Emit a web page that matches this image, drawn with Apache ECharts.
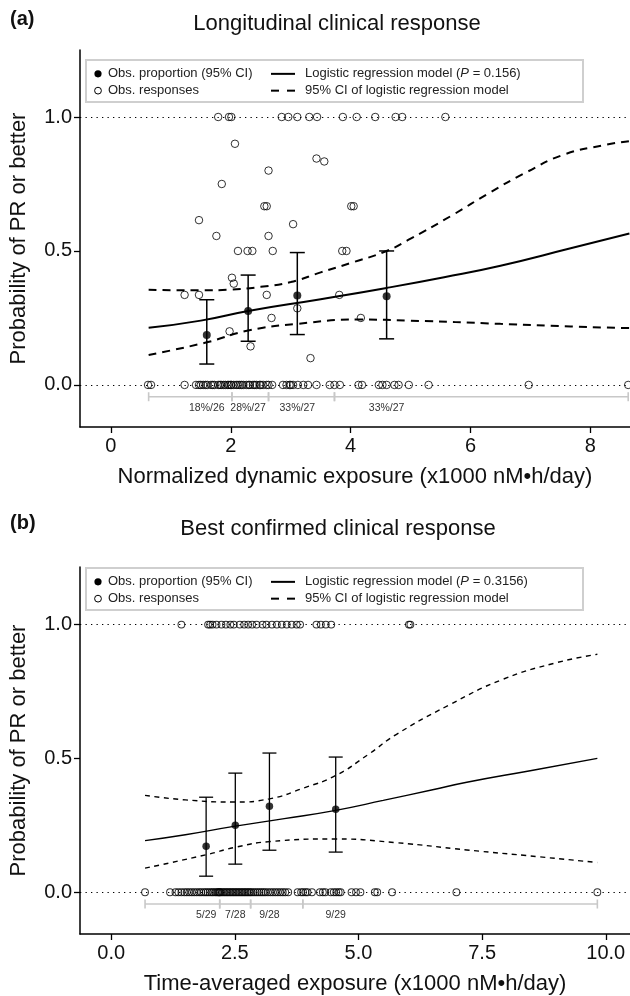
<!DOCTYPE html>
<html><head><meta charset="utf-8">
<script src="https://cdn.jsdelivr.net/npm/echarts@6/dist/echarts.min.js"></script>
<style>html,body{margin:0;padding:0;background:#fff}#c{width:630px;height:996px}</style>
</head><body><div id="c"></div>
<script>
// ---------- Panel (a): Longitudinal clinical response ----------
const aXTicks = [0, 2, 4, 6, 8];
const aZeroX = [0.62,0.67,1.23,1.42,1.47,1.50,1.54,1.58,1.61,1.67,1.70,1.73,1.79,1.82,1.84,1.88,1.91,1.95,1.97,2.00,2.01,2.05,2.09,2.12,2.15,2.18,2.21,2.26,2.30,2.32,2.37,2.40,2.43,2.48,2.50,2.54,2.60,2.63,2.69,2.87,2.93,2.98,3.00,3.04,3.12,3.21,3.29,3.43,3.65,3.73,3.82,4.13,4.19,4.47,4.53,4.60,4.73,4.80,4.97,5.30,6.97,8.63];
const aOneX = [1.79,1.97,2.01,2.85,2.96,3.11,3.31,3.44,3.87,4.10,4.41,4.75,4.86,5.58];
const aPartial = [[2.07,0.90],[3.43,0.845],[3.56,0.834],[2.63,0.80],[1.85,0.75],[2.56,0.667],[2.60,0.667],[4.01,0.667],[4.05,0.667],[1.47,0.615],[3.04,0.60],[1.76,0.556],[2.63,0.556],[2.12,0.5],[2.28,0.5],[2.36,0.5],[2.70,0.5],[3.86,0.5],[3.93,0.5],[2.02,0.40],[2.05,0.378],[1.23,0.336],[1.47,0.336],[2.60,0.336],[3.81,0.336],[2.68,0.25],[2.33,0.144],[1.98,0.20],[3.11,0.286],[4.17,0.25],[3.33,0.10]];
const aPropX = [1.60, 2.29, 3.11, 4.60];
const aPropMean = [0.186, 0.276, 0.334, 0.331];
const aPropLow = [0.078, 0.163, 0.188, 0.172];
const aPropHigh = [0.318, 0.410, 0.494, 0.500];
const aGroupBounds = [0.63, 2.02, 2.63, 3.73, 8.63];
const aGroupLabels = ['18%/26', '28%/27', '33%/27', '33%/27'];
const aFit = [[0.63,0.213],[1.5,0.240],[2.29,0.276],[3.5,0.320],[4.6,0.362],[5.56,0.402],[6.5,0.445],[7.67,0.510],[8.65,0.565]];
const aFitUpper = [[0.63,0.355],[1.5,0.353],[2.0,0.356],[2.5,0.366],[3.0,0.384],[3.5,0.420],[4.0,0.455],[4.6,0.500],[5.0,0.546],[5.7,0.634],[6.3,0.715],[6.9,0.790],[7.55,0.859],[8.25,0.896],[8.65,0.910]];
const aFitLower = [[0.63,0.112],[1.6,0.159],[2.29,0.203],[3.11,0.228],[4.15,0.244],[5.0,0.240],[6.5,0.228],[7.67,0.218],[8.65,0.212]];

// ---------- Panel (b): Best confirmed clinical response ----------
const bXTicks = [0, 2.5, 5, 7.5, 10];
const bZeroX = [0.685,1.19,1.30,1.36,1.42,1.48,1.53,1.58,1.63,1.68,1.73,1.78,1.82,1.87,1.91,1.95,1.99,2.03,2.06,2.10,2.13,2.16,2.18,2.19,
  2.21,2.24,2.27,2.30,2.33,2.36,2.39,2.42,2.45,2.48,2.51,2.54,2.57,2.60,2.63,2.66,2.69,2.72,2.75,2.78,2.81,
  2.84,2.88,2.92,2.96,3.00,3.04,3.08,3.12,3.17,3.22,3.27,3.32,3.37,3.42,3.47,3.52,3.58,3.77,3.84,
  3.88,3.93,3.97,4.06,4.22,4.28,4.33,4.44,4.50,4.55,4.60,4.64,4.86,4.95,5.04,5.33,5.38,5.68,6.98,9.83];
const bOneX = [1.42,1.96,2.00,2.05,2.13,2.23,2.32,2.41,2.48,2.60,2.69,2.77,2.85,2.94,3.06,3.14,3.25,3.35,3.45,3.55,3.65,3.75,3.82,4.15,4.24,4.34,4.45,6.02,6.05];
const bPropX = [1.92, 2.51, 3.20, 4.54];
const bPropMean = [0.172, 0.250, 0.321, 0.310];
const bPropLow = [0.060, 0.105, 0.157, 0.150];
const bPropHigh = [0.355, 0.445, 0.520, 0.505];
const bGroupBounds = [0.685, 2.195, 2.82, 3.875, 9.83];
const bGroupLabels = ['5/29', '7/28', '9/28', '9/29'];
const bFit = [[0.685,0.193],[1.5,0.215],[2.51,0.247],[3.5,0.275],[4.54,0.306],[5.5,0.343],[6.5,0.383],[7.19,0.411],[8.5,0.455],[9.83,0.500]];
const bFitUpper = [[0.685,0.362],[1.5,0.345],[2.5,0.337],[3.2,0.349],[3.9,0.390],[4.54,0.436],[5.2,0.515],[5.77,0.590],[6.84,0.700],[7.9,0.794],[8.97,0.856],[9.83,0.889]];
const bFitLower = [[0.685,0.090],[1.92,0.140],[2.51,0.168],[3.2,0.189],[4.54,0.199],[5.77,0.185],[7.19,0.158],[8.62,0.133],[9.83,0.111]];

const yTicks = [0, 0.5, 1];

// ---------- styling ----------
const FONT = '"Liberation Sans", Arial, Helvetica, sans-serif';
const BRACKET_Y = -0.044, LABEL_Y = -0.085;

function panel(gi, d, st) {
  const series = [];
  const obs = d.zero.map(x => [x, 0]).concat(d.one.map(x => [x, 1])).concat(d.partial);
  series.push({
    type: 'scatter', xAxisIndex: gi, yAxisIndex: gi, data: obs, z: 3,
    symbol: 'circle', symbolSize: st.circ,
    itemStyle: { color: 'rgba(0,0,0,0)', borderColor: '#000', borderWidth: 1 },
    markLine: { silent: true, symbol: ['none', 'none'], label: { show: false },
      lineStyle: { color: '#000', type: [1.3, 4.2], width: 1.2 },
      emphasis: { disabled: true }, data: [{ yAxis: 0 }, { yAxis: 1 }] }
  });
  series.push({ type: 'line', xAxisIndex: gi, yAxisIndex: gi, data: d.fit, smooth: true, showSymbol: false, z: 4,
    lineStyle: { color: '#000', width: st.lw } });
  series.push({ type: 'line', xAxisIndex: gi, yAxisIndex: gi, data: d.up, smooth: true, showSymbol: false, z: 4,
    lineStyle: { color: '#000', width: st.lw, type: st.dash } });
  series.push({ type: 'line', xAxisIndex: gi, yAxisIndex: gi, data: d.lo, smooth: true, showSymbol: false, z: 4,
    lineStyle: { color: '#000', width: st.lw, type: st.dash } });
  series.push({
    type: 'custom', xAxisIndex: gi, yAxisIndex: gi, z: 5,
    data: d.px.map((x, i) => [x, d.pm[i], d.pl[i], d.ph[i]]),
    encode: { x: 0, y: [2, 3] },
    renderItem: function (params, api) {
      const x = api.value(0);
      const a = api.coord([x, api.value(2)]), b = api.coord([x, api.value(3)]);
      const w = st.cap, s = { stroke: '#000', lineWidth: st.elw };
      return { type: 'group', children: [
        { type: 'line', shape: { x1: a[0], y1: a[1], x2: b[0], y2: b[1] }, style: s },
        { type: 'line', shape: { x1: a[0] - w, y1: a[1], x2: a[0] + w, y2: a[1] }, style: s },
        { type: 'line', shape: { x1: b[0] - w, y1: b[1], x2: b[0] + w, y2: b[1] }, style: s }
      ]};
    }
  });
  series.push({ type: 'scatter', xAxisIndex: gi, yAxisIndex: gi, z: 6,
    data: d.px.map((x, i) => [x, d.pm[i]]), symbol: 'circle', symbolSize: st.dot,
    itemStyle: { color: '#000' } });
  series.push({
    type: 'custom', xAxisIndex: gi, yAxisIndex: gi, z: 2,
    data: d.gb.slice(0, -1).map((b, i) => [b, d.gb[i + 1]]),
    encode: { x: [0, 1] },
    renderItem: function (params, api) {
      const a = api.coord([api.value(0), BRACKET_Y]), b = api.coord([api.value(1), BRACKET_Y]);
      const s = { stroke: '#c8c8c8', lineWidth: 1.6 }, t = 4.5;
      return { type: 'group', children: [
        { type: 'line', shape: { x1: a[0], y1: a[1], x2: b[0], y2: b[1] }, style: s },
        { type: 'line', shape: { x1: a[0], y1: a[1] - t, x2: a[0], y2: a[1] + t }, style: s },
        { type: 'line', shape: { x1: b[0], y1: b[1] - t, x2: b[0], y2: b[1] + t }, style: s }
      ]};
    }
  });
  series.push({
    type: 'custom', xAxisIndex: gi, yAxisIndex: gi, z: 2,
    data: d.px.map(x => [x, LABEL_Y]),
    renderItem: function (params, api) {
      const p = api.coord([api.value(0), api.value(1)]);
      return { type: 'text', x: p[0], y: p[1], style: { text: d.gl[params.dataIndex], align: 'center',
        verticalAlign: 'middle', fontSize: 10.5, fill: '#333', fontFamily: FONT } };
    }
  });
  return series;
}

function legend(top, h, pText) {
  const fs = 13;
  const txt = (x, y, t) => ({ type: 'text', x: x, y: y, z: 11, style: { text: t, fontSize: fs, fill: '#222', fontFamily: FONT, verticalAlign: 'middle' } });
  const r1 = top + h * 0.33, r2 = top + h * 0.73;
  return [
    { type: 'rect', shape: { x: 86, y: top, width: 497, height: h }, style: { fill: '#fff', stroke: '#cfcfcf', lineWidth: 2 }, z: 10 },
    { type: 'circle', shape: { cx: 98, cy: r1, r: 3.6 }, style: { fill: '#000' }, z: 11 },
    { type: 'circle', shape: { cx: 98, cy: r2, r: 3.4 }, style: { fill: 'none', stroke: '#000', lineWidth: 1 }, z: 11 },
    txt(108, r1, 'Obs. proportion (95% CI)'),
    txt(108, r2, 'Obs. responses'),
    { type: 'line', shape: { x1: 271, y1: r1, x2: 295, y2: r1 }, style: { stroke: '#000', lineWidth: 2 }, z: 11 },
    { type: 'line', shape: { x1: 271, y1: r2, x2: 279, y2: r2 }, style: { stroke: '#000', lineWidth: 2 }, z: 11 },
    { type: 'line', shape: { x1: 287, y1: r2, x2: 295, y2: r2 }, style: { stroke: '#000', lineWidth: 2 }, z: 11 },
    { type: 'text', x: 305, y: r1, z: 11, style: { text: '{n|Logistic regression model (}{i|P}{n| = ' + pText + ')}', verticalAlign: 'middle',
      rich: { n: { fontSize: fs, fill: '#222', fontFamily: FONT }, i: { fontSize: fs, fill: '#222', fontFamily: FONT, fontStyle: 'italic' } } } },
    txt(305, r2, '95% CI of logistic regression model')
  ];
}

function xAxisCfg(gi, min, max, ticks, name, fmt) {
  return { type: 'value', gridIndex: gi, min: min, max: max, splitLine: { show: false },
    axisLine: { show: true, onZero: false, lineStyle: { color: '#000', width: 1.5 } },
    axisTick: { show: true, length: 6, customValues: ticks, lineStyle: { color: '#000', width: 1.3 } },
    axisLabel: { customValues: ticks, fontSize: 20, color: '#111', margin: 9, fontFamily: FONT, formatter: fmt },
    name: name, nameLocation: 'middle', nameGap: 39,
    nameTextStyle: { fontSize: 22, color: '#111', fontFamily: FONT } };
}
function yAxisCfg(gi, min, max) {
  return { type: 'value', gridIndex: gi, min: min, max: max, splitLine: { show: false },
    axisLine: { show: true, onZero: false, lineStyle: { color: '#000', width: 1.5 } },
    axisTick: { show: true, length: 6, customValues: yTicks, lineStyle: { color: '#000', width: 1.3 } },
    axisLabel: { customValues: yTicks, fontSize: 20, color: '#111', margin: 8, fontFamily: FONT, formatter: v => v.toFixed(1) },
    name: 'Probability of PR or better', nameLocation: 'middle', nameGap: 50, nameRotate: 90,
    nameTextStyle: { fontSize: 22, color: '#111', fontFamily: FONT } };
}

const stA = { circ: 7.5, dot: 8, lw: 2, dash: [8, 6], cap: 7.5, elw: 1.5 };
const stB = { circ: 6.8, dot: 7.5, lw: 1.4, dash: [5, 4.5], cap: 7, elw: 1.3 };

const option = {
  animation: false,
  backgroundColor: '#fff',
  grid: [
    { left: 80, right: 0, top: 50, height: 377 },
    { left: 80, right: 0, top: 567, height: 370 }
  ],
  xAxis: [
    xAxisCfg(0, -0.515, 8.66, aXTicks, 'Normalized dynamic exposure (x1000 nM\u2022h/day)', v => String(v)),
    xAxisCfg(1, -0.63, 10.49, bXTicks, 'Time-averaged exposure (x1000 nM\u2022h/day)', v => v.toFixed(1))
  ],
  yAxis: [yAxisCfg(0, -0.157, 1.25), yAxisCfg(1, -0.156, 1.215)],
  graphic: [
    { type: 'text', x: 10, y: 19, style: { text: '(a)', fontSize: 20, fontWeight: 'bold', fill: '#111', fontFamily: FONT, verticalAlign: 'middle' } },
    { type: 'text', x: 337, y: 24, style: { text: 'Longitudinal clinical response', fontSize: 22, fill: '#111', fontFamily: FONT, align: 'center', verticalAlign: 'middle' } },
    { type: 'text', x: 10, y: 523, style: { text: '(b)', fontSize: 20, fontWeight: 'bold', fill: '#111', fontFamily: FONT, verticalAlign: 'middle' } },
    { type: 'text', x: 338, y: 529, style: { text: 'Best confirmed clinical response', fontSize: 22, fill: '#111', fontFamily: FONT, align: 'center', verticalAlign: 'middle' } }
  ].concat(legend(60, 42, '0.156')).concat(legend(568, 42, '0.3156')),
  series: panel(0, { zero: aZeroX, one: aOneX, partial: aPartial, fit: aFit, up: aFitUpper, lo: aFitLower,
      px: aPropX, pm: aPropMean, pl: aPropLow, ph: aPropHigh, gb: aGroupBounds, gl: aGroupLabels }, stA)
    .concat(panel(1, { zero: bZeroX, one: bOneX, partial: [], fit: bFit, up: bFitUpper, lo: bFitLower,
      px: bPropX, pm: bPropMean, pl: bPropLow, ph: bPropHigh, gb: bGroupBounds, gl: bGroupLabels }, stB))
};
const chart = echarts.init(document.getElementById('c'));
chart.setOption(option);
</script></body></html>
